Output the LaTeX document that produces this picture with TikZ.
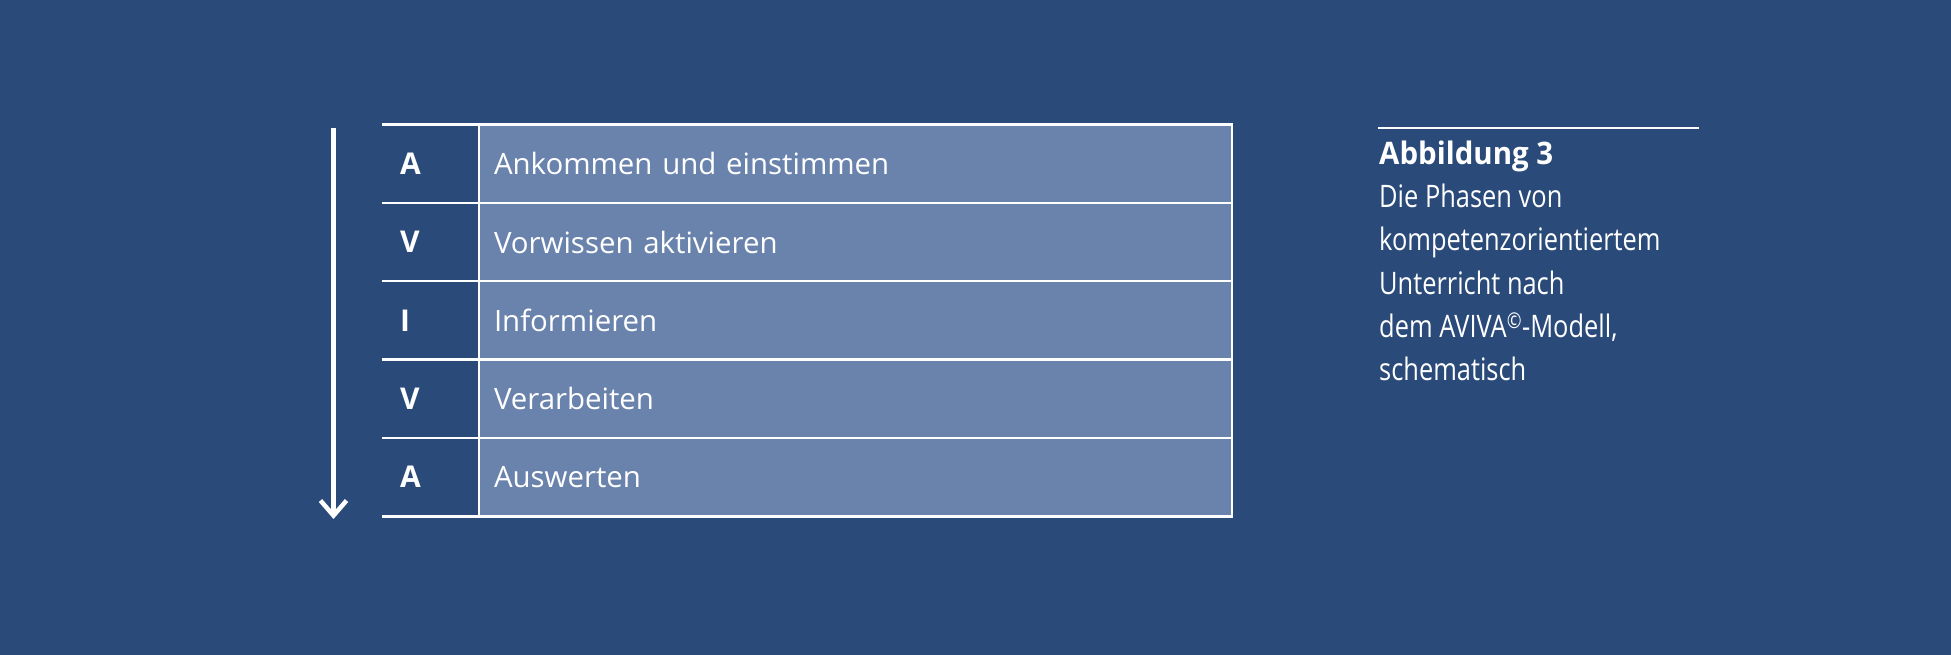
\documentclass[tikz,border=0pt]{standalone}
\usepackage{fontspec}
\setmainfont{Open Sans}
\newfontfamily\capfont[FakeStretch=0.82, BoldFeatures={FakeStretch=0.95}]{Open Sans}
\usepackage{tikz}
\usetikzlibrary{positioning,arrows.meta}
\definecolor{bgblue}{RGB}{42, 74, 121}
\definecolor{cellblue}{RGB}{106, 131, 173}
\tikzstyle{phase} = [rectangle, draw=white, line width=2.5pt, fill=cellblue, text=white, minimum width=753pt, minimum height=78.4pt, text width=723pt, inner xsep=15pt, align=left, outer sep=0pt, font=\fontsize{29.4}{36}\selectfont]
\tikzstyle{letter} = [rectangle, text=white, minimum width=97pt, minimum height=78.4pt, text width=61pt, inner xsep=18pt, align=left, outer sep=0pt, font=\bfseries\fontsize{30}{36}\selectfont]
\tikzstyle{rule} = [draw, white, line width=2.5pt]
\tikzstyle{flow} = [draw, white, line width=4.5pt, -{Straight Barb[length=15pt, width=26pt]}]
\tikzstyle{capline} = [draw, white, line width=1.5pt]
\tikzstyle{capt} = [text=white, align=left, inner sep=0pt, font=\capfont\fontsize{31}{43.3}\selectfont]

\begin{document}
\begin{tikzpicture}[x=1pt, y=-1pt]

% background =============================
\fill[bgblue] (0,0) rectangle (1951,655);

% phases
\node[phase] (p1) at (855.5,163.6) {Ankommen und einstimmen};
\node[phase, below=0pt of p1] (p2) {Vorwissen aktivieren};
\node[phase, below=0pt of p2] (p3) {Informieren};
\node[phase, below=0pt of p3] (p4) {Verarbeiten};
\node[phase, below=0pt of p4] (p5) {Auswerten};

% letters
\node[letter, left=0pt of p1] (l1) {A};
\node[letter, left=0pt of p2] (l2) {V};
\node[letter, left=0pt of p3] (l3) {I};
\node[letter, left=0pt of p4] (l4) {V};
\node[letter, left=0pt of p5] (l5) {A};

% arrow
\coordinate (atop) at (333.5,128);
\coordinate (abot) at (333.5,519);

% caption
\coordinate (capl) at (1377.5,128);
\coordinate (capr) at (1698.5,128);
\node[capt, anchor=north west] (caption) at (1379,140.5) {{\bfseries Abbildung 3}\\Die Phasen von\\kompetenzorientiertem\\Unterricht nach\\dem AVIVA\textsuperscript{©}-Modell,\\schematisch};

%edges
\path[rule] (l1.north west) -- (p1.north west);
\path[rule] (l1.south west) -- (p1.south west);
\path[rule] (l2.south west) -- (p2.south west);
\path[rule] (l3.south west) -- (p3.south west);
\path[rule] (l4.south west) -- (p4.south west);
\path[rule] (l5.south west) -- (p5.south west);

\path[flow] (atop) -- (abot);
\path[capline] (capl) -- (capr);

\end{tikzpicture}
\end{document}
